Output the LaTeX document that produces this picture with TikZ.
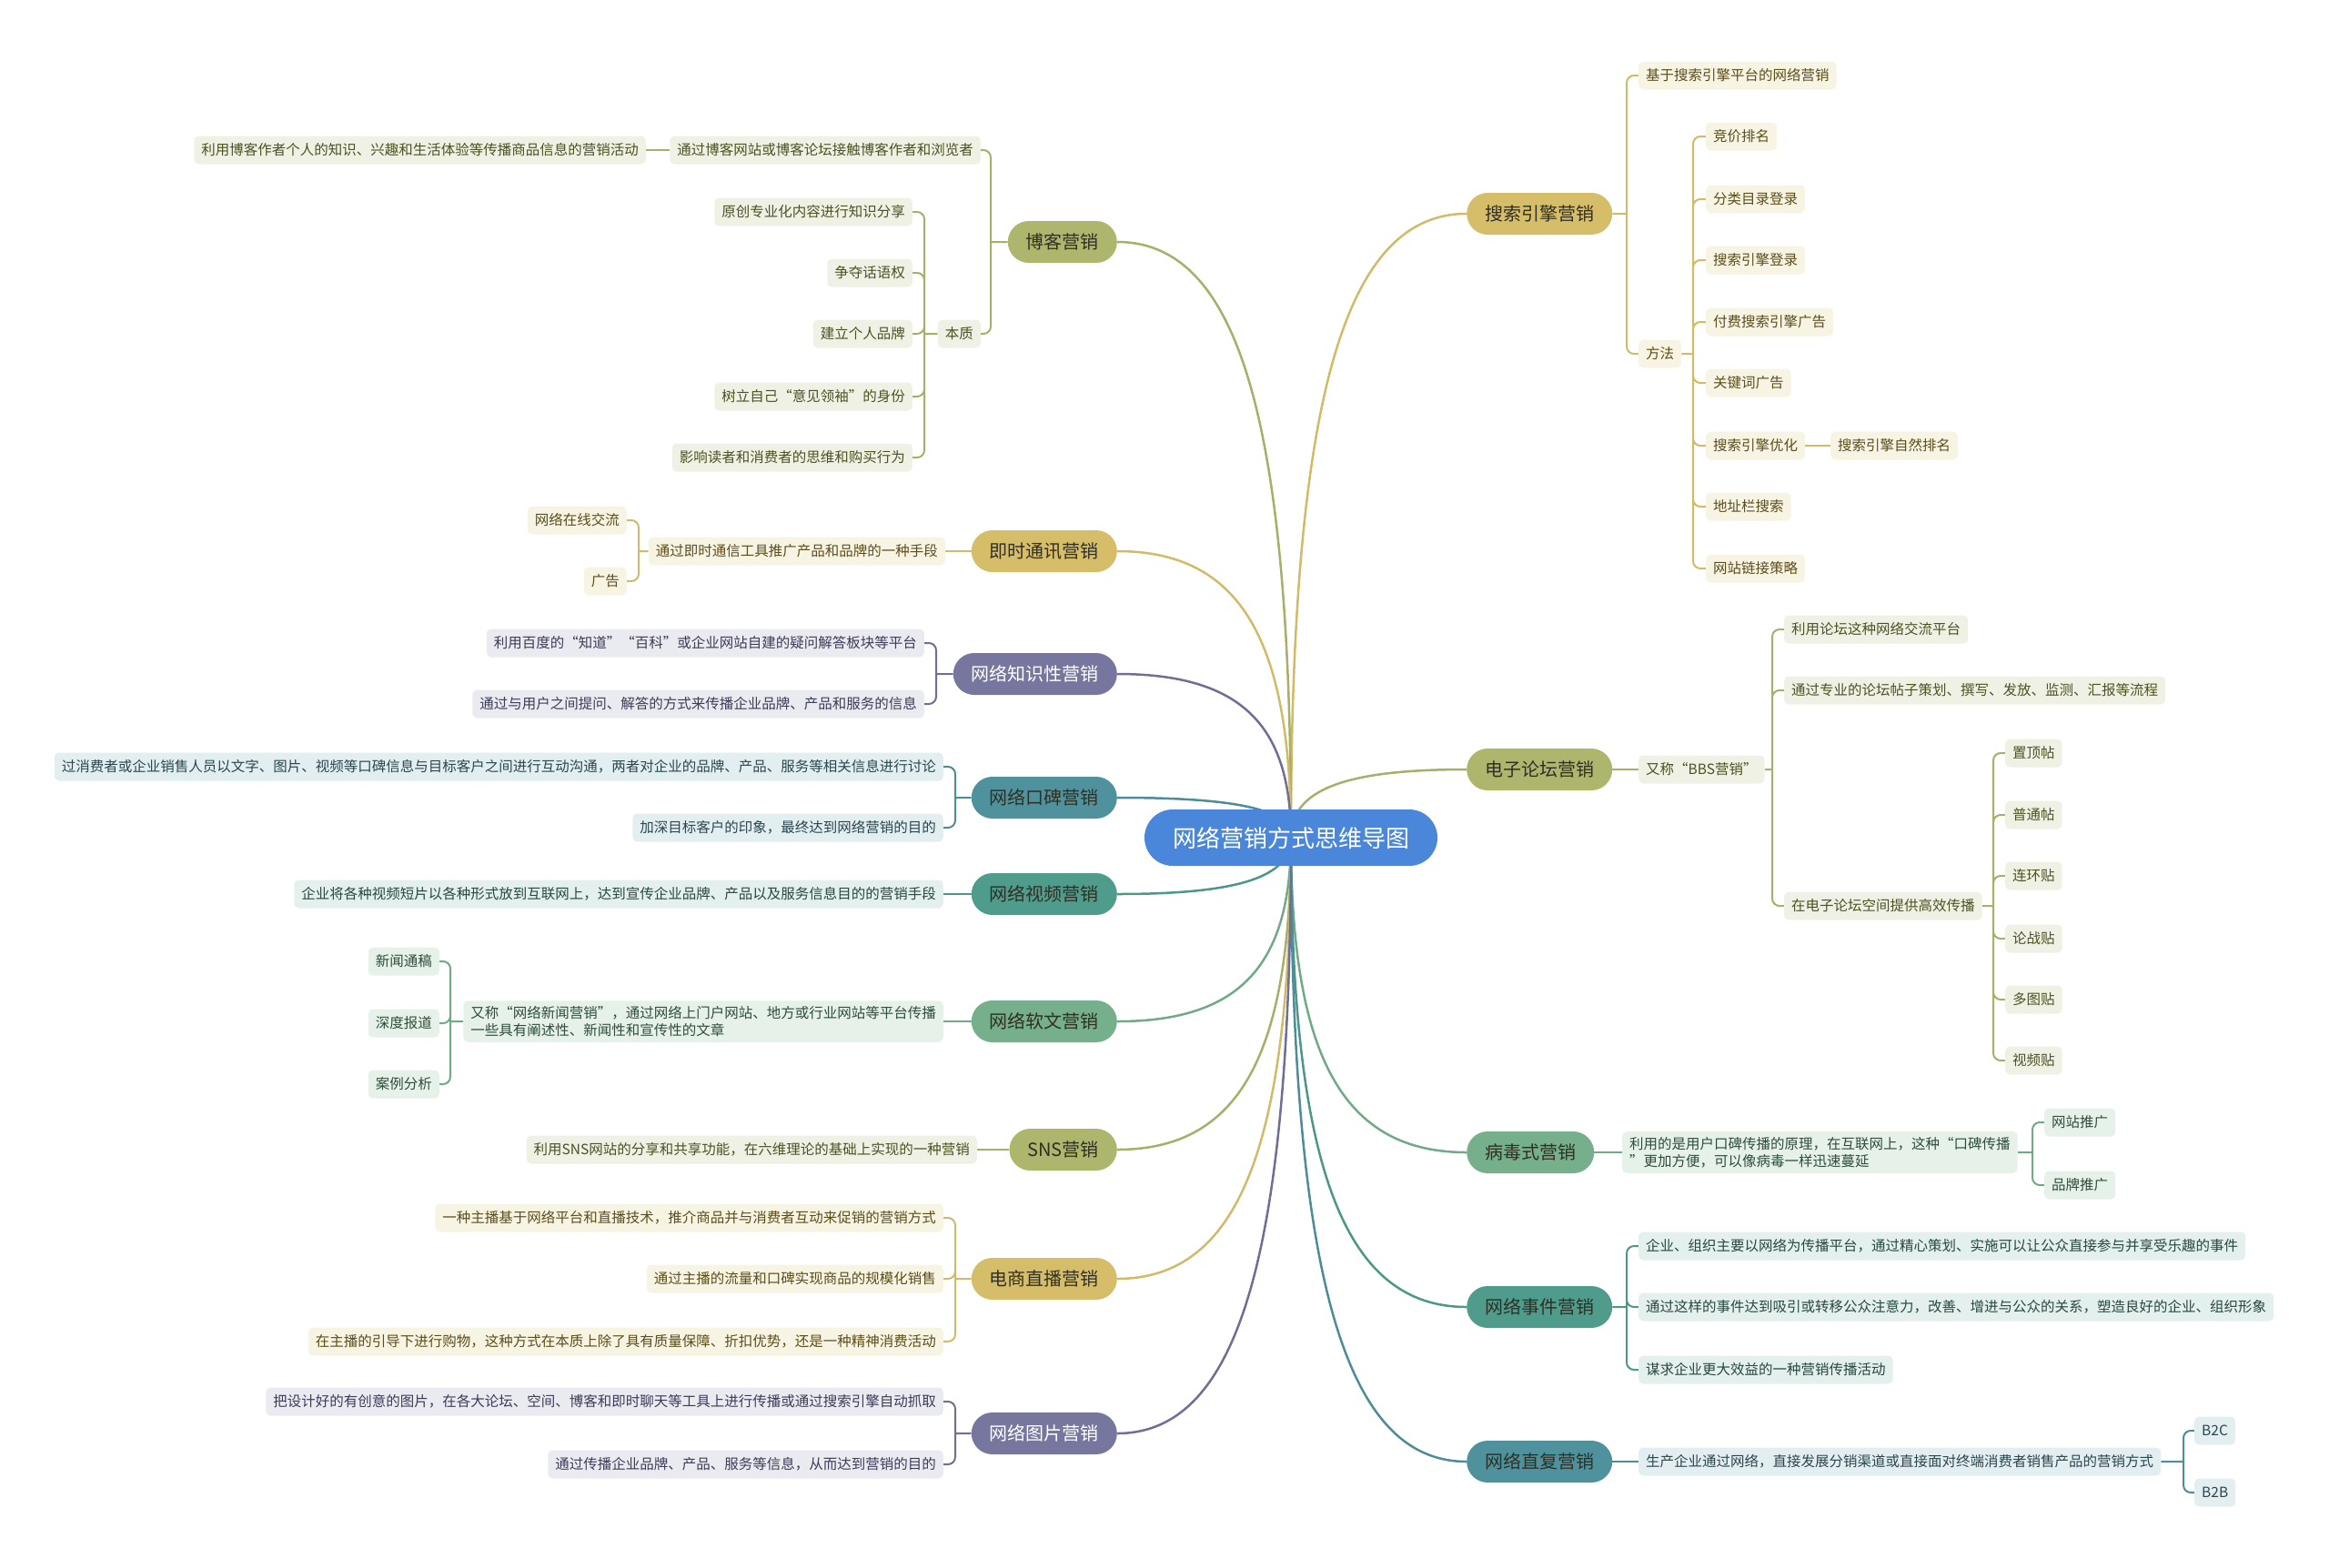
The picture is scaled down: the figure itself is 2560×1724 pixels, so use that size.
\documentclass[tikz,border=0pt]{standalone}
\usepackage{fontspec}
\setmainfont{Noto Sans CJK SC}
\usepackage{xcolor}
\usepackage{tikz}
\usetikzlibrary{calc,backgrounds}

\definecolor{rootblue}{HTML}{4A86D9}
\definecolor{topicT}{HTML}{2F2F24}
\definecolor{goldD}{HTML}{D5BD6A}
\definecolor{goldE}{HTML}{D2BA68}
\definecolor{goldL}{HTML}{F8F4E3}
\definecolor{goldT}{HTML}{5B4D1C}
\definecolor{oliveD}{HTML}{AEB56D}
\definecolor{oliveE}{HTML}{A8AF68}
\definecolor{oliveL}{HTML}{F0F1E5}
\definecolor{oliveT}{HTML}{4D5222}
\definecolor{purpD}{HTML}{76769E}
\definecolor{purpE}{HTML}{6E6E97}
\definecolor{purpL}{HTML}{EAEAF1}
\definecolor{purpT}{HTML}{3C3C58}
\definecolor{tealD}{HTML}{4F929E}
\definecolor{tealE}{HTML}{4C8D99}
\definecolor{tealL}{HTML}{E3EEF1}
\definecolor{tealT}{HTML}{2A474D}
\definecolor{seaD}{HTML}{4F9C8D}
\definecolor{seaE}{HTML}{4D9788}
\definecolor{seaL}{HTML}{E3F0ED}
\definecolor{seaT}{HTML}{29483F}
\definecolor{greenD}{HTML}{76AF8B}
\definecolor{greenE}{HTML}{71AA87}
\definecolor{greenL}{HTML}{E6F1EA}
\definecolor{greenT}{HTML}{2F4D39}

\tikzset{
  root/.style={fill=rootblue, text=white, rounded corners=31pt, minimum height=62pt,
    inner xsep=31pt, inner ysep=0pt, font=\fontsize{26}{30}\selectfont},
  topic/.style={fill=#1, text=topicT, rounded corners=23pt, minimum height=46pt,
    inner xsep=20pt, inner ysep=0pt, font=\fontsize{20}{24}\selectfont},
  leaf/.style 2 args={fill=#1, text=#2, rounded corners=5pt, minimum height=31pt,
    inner xsep=8pt, inner ysep=6pt, align=left, font=\fontsize{15.5}{19}\selectfont},
  gleaf/.style={leaf={goldL}{goldT}},
  oleaf/.style={leaf={oliveL}{oliveT}},
  pleaf/.style={leaf={purpL}{purpT}},
  tleaf/.style={leaf={tealL}{tealT}},
  sleaf/.style={leaf={seaL}{seaT}},
  eleaf/.style={leaf={greenL}{greenT}},
  link/.style={draw=#1, line width=2pt, rounded corners=8pt},
  trunk/.style={draw=#1, line width=2.5pt,
    to path={.. controls ($(\tikztostart)!0.7!(\tikztostart|-\tikztotarget)$)
      and ($(\tikztotarget)!0.7!(\tikztostart|-\tikztotarget)$) .. (\tikztotarget)}},
}

\begin{document}
\begin{tikzpicture}[x=1pt,y=-1pt]
\useasboundingbox (0,0) rectangle (2560,1724);

\node[root] (r) at (1419,921) {网络营销方式思维导图};

% ---- right side
\node[topic=goldD, anchor=west] (s) at (1612,235) {搜索引擎营销};
\node[gleaf, anchor=west] (s1) at (1801,83) {基于搜索引擎平台的网络营销};
\node[gleaf, anchor=west] (s2) at (1801,389) {方法};
\node[gleaf, anchor=west] (s21) at (1875,150) {竞价排名};
\node[gleaf, anchor=west] (s22) at (1875,219) {分类目录登录};
\node[gleaf, anchor=west] (s23) at (1875,286) {搜索引擎登录};
\node[gleaf, anchor=west] (s24) at (1875,354) {付费搜索引擎广告};
\node[gleaf, anchor=west] (s25) at (1875,421) {关键词广告};
\node[gleaf, anchor=west] (s26) at (1875,490) {搜索引擎优化};
\node[gleaf, anchor=west] (s26a) at (2012,490) {搜索引擎自然排名};
\node[gleaf, anchor=west] (s27) at (1875,557) {地址栏搜索};
\node[gleaf, anchor=west] (s28) at (1875,625) {网站链接策略};
\coordinate (sj) at (1788,235);
\coordinate (s2j) at (1861,389);

\node[topic=oliveD, anchor=west] (e) at (1612,846) {电子论坛营销};
\node[oleaf, anchor=west] (e1) at (1801,846) {又称“BBS营销”};
\node[oleaf, anchor=west] (e11) at (1961,692) {利用论坛这种网络交流平台};
\node[oleaf, anchor=west] (e12) at (1961,759) {通过专业的论坛帖子策划、撰写、发放、监测、汇报等流程};
\node[oleaf, anchor=west] (e13) at (1961,996) {在电子论坛空间提供高效传播};
\node[oleaf, anchor=west] (e131) at (2204,828) {置顶帖};
\node[oleaf, anchor=west] (e132) at (2204,896) {普通帖};
\node[oleaf, anchor=west] (e133) at (2204,963) {连环贴};
\node[oleaf, anchor=west] (e134) at (2204,1032) {论战贴};
\node[oleaf, anchor=west] (e135) at (2204,1099) {多图贴};
\node[oleaf, anchor=west] (e136) at (2204,1166) {视频贴};
\coordinate (e1j) at (1948,846);
\coordinate (e13j) at (2191,996);

\node[topic=greenD, anchor=west] (v) at (1612,1267) {病毒式营销};
\node[eleaf, anchor=west] (v1) at (1783,1267) {利用的是用户口碑传播的原理，在互联网上，这种“口碑传播\\”更加方便，可以像病毒一样迅速蔓延};
\node[eleaf, anchor=west] (v11) at (2247,1234) {网站推广};
\node[eleaf, anchor=west] (v12) at (2247,1303) {品牌推广};
\coordinate (v1j) at (2234,1267);

\node[topic=seaD, anchor=west] (n) at (1612,1437) {网络事件营销};
\node[sleaf, anchor=west] (n1) at (1801,1370) {企业、组织主要以网络为传播平台，通过精心策划、实施可以让公众直接参与并享受乐趣的事件};
\node[sleaf, anchor=west] (n2) at (1801,1437) {通过这样的事件达到吸引或转移公众注意力，改善、增进与公众的关系，塑造良好的企业、组织形象};
\node[sleaf, anchor=west] (n3) at (1801,1506) {谋求企业更大效益的一种营销传播活动};
\coordinate (nj) at (1788,1437);

\node[topic=tealD, anchor=west] (d) at (1612,1607) {网络直复营销};
\node[tleaf, anchor=west] (d1) at (1801,1607) {生产企业通过网络，直接发展分销渠道或直接面对终端消费者销售产品的营销方式};
\node[tleaf, anchor=west] (d11) at (2412,1573) {B2C};
\node[tleaf, anchor=west] (d12) at (2412,1641) {B2B};
\coordinate (d1j) at (2400,1607);

% ---- left side
\node[topic=oliveD, anchor=east] (b) at (1228,266) {博客营销};
\node[oleaf, anchor=east] (b1) at (1078,165) {通过博客网站或博客论坛接触博客作者和浏览者};
\node[oleaf, anchor=east] (b1a) at (710,165) {利用博客作者个人的知识、兴趣和生活体验等传播商品信息的营销活动};
\node[oleaf, anchor=east] (b2) at (1078,367) {本质};
\node[oleaf, anchor=east] (b21) at (1003,233) {原创专业化内容进行知识分享};
\node[oleaf, anchor=east] (b22) at (1003,300) {争夺话语权};
\node[oleaf, anchor=east] (b23) at (1003,367) {建立个人品牌};
\node[oleaf, anchor=east] (b24) at (1003,436) {树立自己“意见领袖”的身份};
\node[oleaf, anchor=east] (b25) at (1003,503) {影响读者和消费者的思维和购买行为};
\coordinate (bj) at (1089,266);
\coordinate (b2j) at (1016,367);

\node[topic=goldD, anchor=east] (i) at (1228,606) {即时通讯营销};
\node[gleaf, anchor=east] (i1) at (1039,606) {通过即时通信工具推广产品和品牌的一种手段};
\node[gleaf, anchor=east] (i11) at (689,572) {网络在线交流};
\node[gleaf, anchor=east] (i12) at (689,639) {广告};
\coordinate (i1j) at (702,606);

\node[topic=purpD, text=white, anchor=east] (k) at (1228,741) {网络知识性营销};
\node[pleaf, anchor=east] (k1) at (1016,707) {利用百度的“知道”“百科”或企业网站自建的疑问解答板块等平台};
\node[pleaf, anchor=east] (k2) at (1016,774) {通过与用户之间提问、解答的方式来传播企业品牌、产品和服务的信息};
\coordinate (kj) at (1029,741);

\node[topic=tealD, anchor=east] (w) at (1228,877) {网络口碑营销};
\node[tleaf, anchor=east] (w1) at (1037,843) {过消费者或企业销售人员以文字、图片、视频等口碑信息与目标客户之间进行互动沟通，两者对企业的品牌、产品、服务等相关信息进行讨论};
\node[tleaf, anchor=east] (w2) at (1037,910) {加深目标客户的印象，最终达到网络营销的目的};
\coordinate (wj) at (1050,877);

\node[topic=seaD, anchor=east] (vd) at (1228,983) {网络视频营销};
\node[sleaf, anchor=east] (vd1) at (1037,983) {企业将各种视频短片以各种形式放到互联网上，达到宣传企业品牌、产品以及服务信息目的的营销手段};

\node[topic=greenD, anchor=east] (rw) at (1228,1123) {网络软文营销};
\node[eleaf, anchor=east] (rw1) at (1037,1123) {又称“网络新闻营销”，通过网络上门户网站、地方或行业网站等平台传播\\一些具有阐述性、新闻性和宣传性的文章};
\node[eleaf, anchor=east] (rw11) at (483,1057) {新闻通稿};
\node[eleaf, anchor=east] (rw12) at (483,1125) {深度报道};
\node[eleaf, anchor=east] (rw13) at (483,1192) {案例分析};
\coordinate (rw1j) at (495,1123);

\node[topic=oliveD, anchor=east] (sn) at (1228,1264) {SNS营销};
\node[oleaf, anchor=east] (sn1) at (1074,1264) {利用SNS网站的分享和共享功能，在六维理论的基础上实现的一种营销};

\node[topic=goldD, anchor=east] (l) at (1228,1406) {电商直播营销};
\node[gleaf, anchor=east] (l1) at (1037,1339) {一种主播基于网络平台和直播技术，推介商品并与消费者互动来促销的营销方式};
\node[gleaf, anchor=east] (l2) at (1037,1406) {通过主播的流量和口碑实现商品的规模化销售};
\node[gleaf, anchor=east] (l3) at (1037,1475) {在主播的引导下进行购物，这种方式在本质上除了具有质量保障、折扣优势，还是一种精神消费活动};
\coordinate (lj) at (1050,1406);

\node[topic=purpD, text=white, anchor=east] (p) at (1228,1576) {网络图片营销};
\node[pleaf, anchor=east] (p1) at (1037,1541) {把设计好的有创意的图片，在各大论坛、空间、博客和即时聊天等工具上进行传播或通过搜索引擎自动抓取};
\node[pleaf, anchor=east] (p2) at (1037,1610) {通过传播企业品牌、产品、服务等信息，从而达到营销的目的};
\coordinate (pj) at (1050,1576);

\begin{pgfonlayer}{background}
% trunks
\path[trunk=goldE] (r.center) to (s.west);
\path[trunk=oliveE] (r.center) to (e.west);
\path[trunk=greenE] (r.center) to (v.west);
\path[trunk=seaE] (r.center) to (n.west);
\path[trunk=tealE] (r.center) to (d.west);
\path[trunk=oliveE] (r.center) to (b.east);
\path[trunk=goldE] (r.center) to (i.east);
\path[trunk=purpE] (r.center) to (k.east);
\path[trunk=tealE] (r.center) to (w.east);
\path[trunk=seaE] (r.center) to (vd.east);
\path[trunk=greenE] (r.center) to (rw.east);
\path[trunk=oliveE] (r.center) to (sn.east);
\path[trunk=goldE] (r.center) to (l.east);
\path[trunk=purpE] (r.center) to (p.east);
% branches
\draw[link=goldE] (s.east) -- (sj) (sj) |- (s1.west) (sj) |- (s2.west);
\draw[link=goldE] (s2.east) -- (s2j) (s2j) |- (s21.west) (s2j) |- (s22.west)
  (s2j) |- (s23.west) (s2j) |- (s24.west) (s2j) |- (s25.west) (s2j) |- (s26.west)
  (s2j) |- (s27.west) (s2j) |- (s28.west);
\draw[link=goldE] (s26.east) -- (s26a.west);
\draw[link=oliveE] (e.east) -- (e1.west);
\draw[link=oliveE] (e1.east) -- (e1j) (e1j) |- (e11.west) (e1j) |- (e12.west) (e1j) |- (e13.west);
\draw[link=oliveE] (e13.east) -- (e13j) (e13j) |- (e131.west) (e13j) |- (e132.west)
  (e13j) |- (e133.west) (e13j) |- (e134.west) (e13j) |- (e135.west) (e13j) |- (e136.west);
\draw[link=greenE] (v.east) -- (v1.west);
\draw[link=greenE] (v1.east) -- (v1j) (v1j) |- (v11.west) (v1j) |- (v12.west);
\draw[link=seaE] (n.east) -- (nj) (nj) |- (n1.west) (nj) |- (n2.west) (nj) |- (n3.west);
\draw[link=tealE] (d.east) -- (d1.west);
\draw[link=tealE] (d1.east) -- (d1j) (d1j) |- (d11.west) (d1j) |- (d12.west);
\draw[link=oliveE] (b.west) -- (bj) (bj) |- (b1.east) (bj) |- (b2.east);
\draw[link=oliveE] (b1.west) -- (b1a.east);
\draw[link=oliveE] (b2.west) -- (b2j) (b2j) |- (b21.east) (b2j) |- (b22.east)
  (b2j) |- (b23.east) (b2j) |- (b24.east) (b2j) |- (b25.east);
\draw[link=goldE] (i.west) -- (i1.east);
\draw[link=goldE] (i1.west) -- (i1j) (i1j) |- (i11.east) (i1j) |- (i12.east);
\draw[link=purpE] (k.west) -- (kj) (kj) |- (k1.east) (kj) |- (k2.east);
\draw[link=tealE] (w.west) -- (wj) (wj) |- (w1.east) (wj) |- (w2.east);
\draw[link=seaE] (vd.west) -- (vd1.east);
\draw[link=greenE] (rw.west) -- (rw1.east);
\draw[link=greenE] (rw1.west) -- (rw1j) (rw1j) |- (rw11.east) (rw1j) |- (rw12.east) (rw1j) |- (rw13.east);
\draw[link=oliveE] (sn.west) -- (sn1.east);
\draw[link=goldE] (l.west) -- (lj) (lj) |- (l1.east) (lj) |- (l2.east) (lj) |- (l3.east);
\draw[link=purpE] (p.west) -- (pj) (pj) |- (p1.east) (pj) |- (p2.east);
\end{pgfonlayer}
\end{tikzpicture}
\end{document}
